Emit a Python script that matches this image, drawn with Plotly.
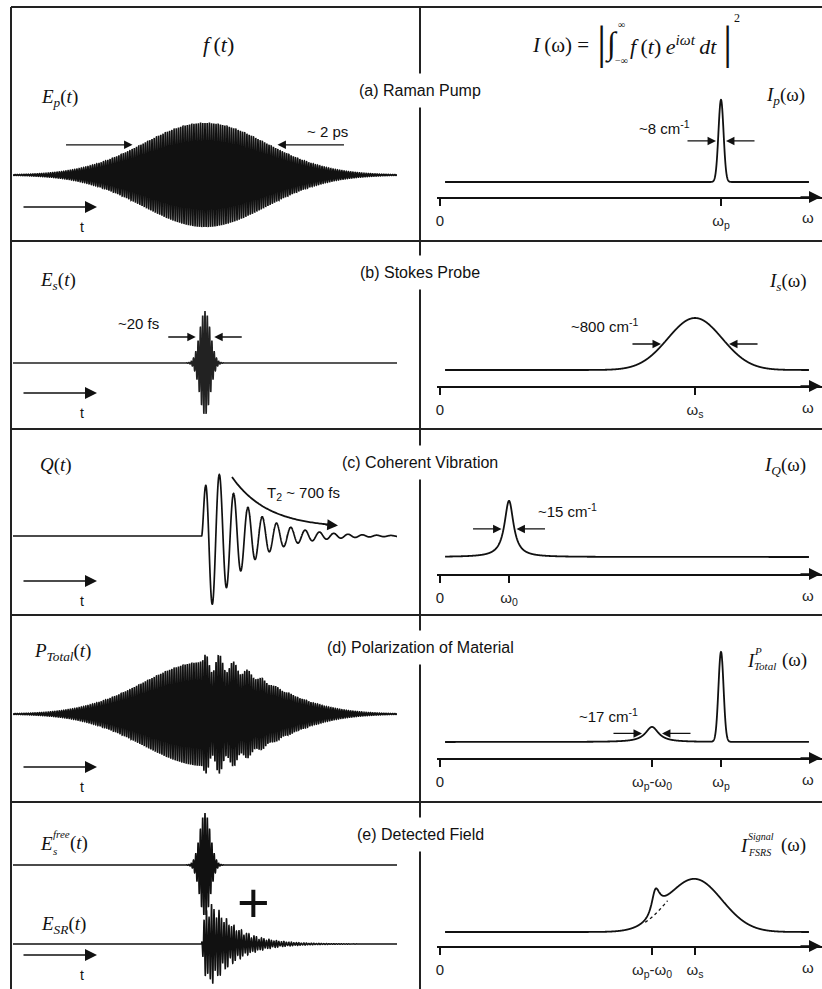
import numpy as np
import plotly.graph_objects as go

W, H = 822, 989

# ---------------- chart values ----------------
row_titles = ["(a) Raman Pump", "(b) Stokes Probe", "(c) Coherent Vibration",
              "(d) Polarization of Material", "(e) Detected Field"]

# time domain (arbitrary units: probe arrives at t = 0, every panel spans t = -1 ... 1)
pulse_names = ["Raman pump", "Stokes probe"]
pulse_fwhm = [0.755, 0.065]
pulse_amp = [1.0, 1.0]
pulse_period = [0.0115, 0.012]

vib_onset, vib_period, vib_rise, vib_T2, vib_amp = -0.018, 0.0745, 0.026, 0.1875, 2.0
pol_coupling = 0.3
sr_amp, sr_decay, sr_period = 1.35, 0.13, 0.013

# frequency domain (units of the pump frequency)
omega_p, omega_0, omega_s = 1.0, 0.2456, 0.9075
spec_span = [0.018, 1.313]
band_names = ["pump", "stokes", "vibration", "polarization band", "pump in P", "FSRS gain"]
band_center = [omega_p, omega_s, omega_0, omega_p - omega_0, omega_p, 0.765]
band_fwhm = [0.0214, 0.228, 0.039, 0.057, 0.0214, 0.0356]
band_height = [1.58, 1.0, 1.08, 0.29, 1.73, 1.4]

time_width_text = ["~ 2 ps", "~20 fs"]
freq_width_text = ["~8 cm<sup>-1</sup>", "~800 cm<sup>-1</sup>", "~15 cm<sup>-1</sup>", "~17 cm<sup>-1</sup>"]
tick_values = [[0, omega_p], [0, omega_s], [0, omega_0],
               [0, omega_p - omega_0, omega_p], [0, omega_p - omega_0, omega_s]]
tick_text = [["0", "ω<sub>p</sub>"], ["0", "ω<sub>s</sub>"], ["0", "ω<sub>0</sub>"],
             ["0", "ω<sub>p</sub>-ω<sub>0</sub>", "ω<sub>p</sub>"],
             ["0", "ω<sub>p</sub>-ω<sub>0</sub>", "ω<sub>s</sub>"]]

# ---------------- model curves ----------------
def gauss(x, c, fwhm):
    return np.exp(-4 * np.log(2) * (x - c) ** 2 / fwhm ** 2)

def lorentz(x, c, fwhm):
    return 1.0 / (1.0 + (2 * (x - c) / fwhm) ** 2)

t = np.linspace(-1, 1, 9001)
E_p = pulse_amp[0] * gauss(t, 0, pulse_fwhm[0]) * np.cos(2 * np.pi * t / pulse_period[0])
E_s = pulse_amp[1] * gauss(t, 0, pulse_fwhm[1]) * np.cos(2 * np.pi * t / pulse_period[1])
dt = t - vib_onset
on = dt > 0
dtp = np.clip(dt, 0, None)
Q = np.where(on, vib_amp * (1 - np.exp(-dtp / vib_rise)) * np.exp(-dtp / vib_T2)
             * np.sin(2 * np.pi * dtp / vib_period), 0.0)
P_tot = E_p * (1 + pol_coupling * Q / vib_amp)
E_SR = np.where(on, sr_amp * (1 - np.exp(-dtp / vib_rise)) * np.exp(-dtp / sr_decay)
                * (0.6 + 0.4 * np.abs(np.sin(2 * np.pi * dtp / vib_period)))
                * np.cos(2 * np.pi * dtp / sr_period), 0.0)

w = np.linspace(spec_span[0], spec_span[1], 4001)
I_p = band_height[0] * gauss(w, band_center[0], band_fwhm[0])
I_s = band_height[1] * gauss(w, band_center[1], band_fwhm[1])
I_Q = band_height[2] * lorentz(w, band_center[2], band_fwhm[2])
I_P = (band_height[4] * gauss(w, band_center[4], band_fwhm[4])
       + band_height[3] * lorentz(w, band_center[3], band_fwhm[3]))
I_F = I_s * (1 + band_height[5] * lorentz(w, band_center[5], band_fwhm[5]))

# ---------------- layout geometry (pixels) ----------------
def px(x):
    return x / W

def py(y):
    return 1 - y / H

SCALE = 52.0          # px per amplitude unit
LX0, LX1 = 13, 397     # left column plot span
RX0, RZERO, RPX = 437, 440, 281.0   # right axis start, omega=0 pixel, px per omega_p

left_boxes = [(175, 110, 235), (363, 300, 420), (536, 470, 615),
              (714, 645, 785), (865, 805, 915), (944, 900, 989)]   # baseline, top, bottom
right_boxes = [(182, 197, 95), (370, 386, 300), (557, 574, 480),
               (742, 758, 640), (932, 946, 860)]                   # baseline, axis, top

SERIF = "Liberation Serif"
SANS = "Liberation Sans"
INK = "#111111"

fig = go.Figure()
layout = {}
annotations = []
shapes = []

def axname(i):
    return ("xaxis" if i == 1 else f"xaxis{i}"), ("yaxis" if i == 1 else f"yaxis{i}")

def ref(i):
    return ("x" if i == 1 else f"x{i}"), ("y" if i == 1 else f"y{i}")

# left subplots 1..6
for k, (base, top, bot) in enumerate(left_boxes):
    i = k + 1
    xa, ya = axname(i)
    layout[xa] = dict(domain=[px(LX0), px(LX1)], range=[-1, 1], visible=False,
                      anchor=ref(i)[1], fixedrange=True)
    layout[ya] = dict(domain=[py(bot), py(top)],
                      range=[-(bot - base) / SCALE, (base - top) / SCALE],
                      visible=False, anchor=ref(i)[0], fixedrange=True)

# right subplots 7..11
for k, (base, axis_y, top) in enumerate(right_boxes):
    i = k + 7
    xa, ya = axname(i)
    layout[xa] = dict(domain=[px(RX0), 1.0],
                      range=[(RX0 - RZERO) / RPX, (W - RZERO) / RPX],
                      showline=True, linecolor=INK, linewidth=1.6,
                      ticks="outside", ticklen=7, tickwidth=1.5, tickcolor=INK,
                      tickvals=tick_values[k], ticktext=tick_text[k],
                      tickfont=dict(family=SANS, size=15, color="#222"),
                      ticklabelstandoff=2,
                      showgrid=False, zeroline=False, anchor=ref(i)[1], fixedrange=True)
    layout[ya] = dict(domain=[py(axis_y), py(top)],
                      range=[-(axis_y - base) / SCALE, (base - top) / SCALE],
                      visible=False, anchor=ref(i)[0], fixedrange=True)

def add_line(i, x, y, color=INK, width=1.3, dash="solid"):
    xr, yr = ref(i)
    fig.add_trace(go.Scatter(x=x, y=y, xaxis=xr, yaxis=yr, mode="lines",
                             line=dict(color=color, width=width, dash=dash, simplify=False),
                             hoverinfo="skip", showlegend=False))

# time-domain traces
add_line(1, t, E_p, width=1.6)
add_line(2, t, E_s, color="#222", width=1.6)
add_line(3, t, Q, width=1.7)
add_line(4, t, P_tot, width=1.6)
add_line(5, t, E_s, width=1.6)
add_line(6, t, E_SR, width=1.5)

# spectra
add_line(7, w, I_p, width=1.8)
add_line(8, w, I_s, width=1.8)
add_line(9, w, I_Q, width=1.8)
add_line(10, w, I_P, width=1.8)
add_line(11, w, I_F, width=1.8)
sel = (w > band_center[5] - 0.035) & (w < band_center[5] + 0.045)
add_line(11, w[sel], I_s[sel], width=1.3, dash="dot")

# T2 decay arrow, following the vibrational decay constant
t_arc = np.linspace((232 - 205) / 192, (334 - 205) / 192, 80)
y_arc = 8 / SCALE + (51 / SCALE) * np.exp(-(t_arc - t_arc[0]) / vib_T2)
add_line(3, t_arc, y_arc, width=1.8)
xr3, yr3 = ref(3)
annotations.append(dict(x=(338 - 205) / 192, y=y_arc[-1] - 0.01, xref=xr3, yref=yr3,
                        ax=-14, ay=-1, showarrow=True, arrowhead=2, arrowsize=1.2,
                        arrowwidth=1.8, arrowcolor=INK, text=""))

# ---------------- annotations helpers ----------------
def label(x, y, text, size=19, family=SERIF, xanchor="center", color=INK, **kw):
    d = dict(x=px(x), y=py(y), xref="paper", yref="paper", text=text, showarrow=False,
             font=dict(family=family, size=size, color=color), xanchor=xanchor,
             yanchor="middle")
    d.update(kw)
    annotations.append(d)

def arrow(i, xh, yh, tail_px, width=1.3, size=1.3):
    xr, yr = ref(i)
    annotations.append(dict(x=xh, y=yh, xref=xr, yref=yr, ax=tail_px, ay=0,
                            showarrow=True, arrowhead=2, arrowsize=size,
                            arrowwidth=width, arrowcolor=INK, text=""))

# FWHM arrows, time domain
for i, k, tail in [(1, 0, 68), (2, 1, 29)]:
    half = pulse_fwhm[k] / 2 + (0 if k == 0 else 3 / 192)
    arrow(i, -half, pulse_amp[k] / 2 + (0.08 if k == 0 else 0), -tail)
    arrow(i, half, pulse_amp[k] / 2 + (0.08 if k == 0 else 0), tail)

# FWHM arrows, frequency domain
pad = 2 / RPX
for i, b, hgt in [(7, 0, band_height[0] / 2), (8, 1, band_height[1] / 2),
                  (9, 2, band_height[2] / 2), (10, 3, band_height[3] / 2 + 0.02)]:
    half = band_fwhm[b] / 2 + pad
    arrow(i, band_center[b] - half, hgt, -30)
    arrow(i, band_center[b] + half, hgt, 30)

# right axis arrowheads and omega labels
for k, (base, axis_y, top) in enumerate(right_boxes):
    annotations.append(dict(x=px(821), y=py(axis_y), xref="paper", yref="paper",
                            ax=-22, ay=0, showarrow=True, arrowhead=2, arrowsize=1.5,
                            arrowwidth=1.6, arrowcolor=INK, text=""))
    label(808, axis_y + 21, "ω", size=15, family=SANS, color="#222")

# time arrows
for yy in [207, 393, 581, 767, 955]:
    annotations.append(dict(x=px(97), y=py(yy), xref="paper", yref="paper",
                            ax=-75, ay=0, showarrow=True, arrowhead=2, arrowsize=1.5,
                            arrowwidth=1.6, arrowcolor=INK, text=""))
    label(82, yy + 20, "t", size=14, family=SANS)

# row titles (white box hides the divider)
for title, yy in zip(row_titles, [90, 272, 462, 647, 834]):
    label(420, yy, title, size=16, family=SANS, bgcolor="white", borderpad=8)

# column headers
label(218, 44, "<i>f</i>\u2009(<i>t</i>)", size=22)
label(591, 45, "<i>I</i>\u2009(ω) =", size=21, xanchor="right")
label(601, 43, "|", size=46)
label(611, 44, "∫", size=32)
label(621, 25, "∞", size=10)
label(621, 60, "−∞", size=10)
label(628, 45, "<i>f</i>\u2009(<i>t</i>)\u2009<i>e</i><sup><i>iωt</i></sup>\u2009<i>dt</i>",
      size=22, xanchor="left")
label(727, 43, "|", size=46)
label(737, 18, "2", size=12)

# left function labels
label(60, 98, "<i>E</i><sub><i>p</i></sub>(<i>t</i>)")
label(58, 281, "<i>E</i><sub><i>s</i></sub>(<i>t</i>)")
label(56, 465, "<i>Q</i>(<i>t</i>)")
label(62, 652, "<i>P</i><sub><i>Total</i></sub>(<i>t</i>)")
label(38, 843, "<i>E</i>", xanchor="left")
label(51, 834, "<i>free</i>", size=11, xanchor="left")
label(51, 851, "<i>s</i>", size=11, xanchor="left")
label(68, 843, "(<i>t</i>)", xanchor="left")
label(63, 925, "<i>E</i><sub><i>SR</i></sub>(<i>t</i>)")

# right function labels
label(785, 96, "<i>I</i><sub><i>p</i></sub>(ω)")
label(788, 282, "<i>I</i><sub><i>s</i></sub>(ω)")
label(785, 466, "<i>I</i><sub><i>Q</i></sub>(ω)")
label(745, 660, "<i>I</i>", xanchor="left")
label(752, 651, "<i>P</i>", size=11, xanchor="left")
label(752, 666, "<i>Total</i>", size=11, xanchor="left")
label(780, 660, "(ω)", xanchor="left")
label(738, 845, "<i>I</i>", xanchor="left")
label(746, 836, "<i>Signal</i>", size=10, xanchor="left")
label(746, 852, "<i>FSRS</i>", size=10, xanchor="left")
label(779, 845, "(ω)", xanchor="left")

# width labels
label(327, 131, time_width_text[0], size=15, family=SANS)
label(138, 323, time_width_text[1], size=15, family=SANS)
label(303, 493, "T<sub>2</sub> ~ 700 fs", size=15, family=SANS)
label(664, 128, freq_width_text[0], size=15, family=SANS)
label(604, 325, freq_width_text[1], size=15, family=SANS)
label(567, 510, freq_width_text[2], size=15, family=SANS)
label(608, 715, freq_width_text[3], size=15, family=SANS)

# big plus sign in (e)
label(253, 902, "+", size=56, family=SANS)

# ---------------- table frame ----------------
LINE = dict(color="#222", width=2)
shapes.append(dict(type="line", xref="paper", yref="paper", x0=px(11), x1=1.0,
                   y0=py(7), y1=py(7), line=LINE))
shapes.append(dict(type="line", xref="paper", yref="paper", x0=px(11), x1=px(11),
                   y0=py(7), y1=0.0, line=LINE))
shapes.append(dict(type="line", xref="paper", yref="paper", x0=px(420), x1=px(420),
                   y0=py(7), y1=0.0, line=LINE))
for yy in [241, 429, 615, 802]:
    shapes.append(dict(type="line", xref="paper", yref="paper", x0=px(11), x1=1.0,
                       y0=py(yy), y1=py(yy), line=LINE))

fig.update_layout(width=W, height=H, margin=dict(l=0, r=0, t=0, b=0),
                  paper_bgcolor="white", plot_bgcolor="rgba(0,0,0,0)",
                  showlegend=False, annotations=annotations, shapes=shapes, **layout)
fig.write_html("out.html", config={"displayModeBar": False},
               post_script="document.body.style.margin='0px';"
                           "document.body.style.overflow='hidden';")
